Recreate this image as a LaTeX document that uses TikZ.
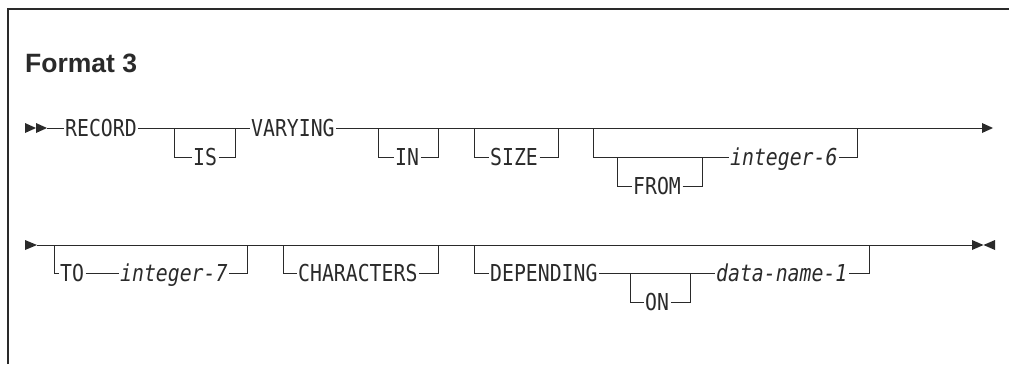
\documentclass[tikz,border=0pt]{standalone}
\usepackage{fontspec}
\setmainfont{Liberation Sans}
\newfontfamily\synfont[FakeStretch=0.85]{DejaVu Sans Mono}
\definecolor{ink}{HTML}{2A2A2A}
\tikzset{
  kw/.style={font=\synfont\fontsize{23.3}{24}\selectfont, inner xsep=1.5pt, inner ysep=0pt,
             text height=17pt, text depth=0pt, anchor=west, text=ink},
  var/.style={kw, font=\synfont\itshape\fontsize{23.3}{24}\selectfont},
  rail/.style={draw=ink, line width=1pt},
  tip/.style={fill=ink},
  frame/.style={draw=ink, line width=1.6pt},
}
\begin{document}
\begin{tikzpicture}[x=1pt,y=-1pt]
\useasboundingbox (0,0) rectangle (1009,364);
% frame
\draw[frame] (8,364) -- (8,9) -- (1009,9);
\node[font=\bfseries\fontsize{26.5}{30}\selectfont, anchor=base west, inner sep=0pt, text=ink] (title) at (25,72) {Format 3};

% ---------- Row 1 ----------
\fill[tip] (25,123) -- (36,128) -- (25,133) -- cycle;
\fill[tip] (36,123) -- (47,128) -- (36,133) -- cycle;
\coordinate (s1) at (47,128);
\node[kw] (rec) at (63.5,128) {RECORD};
\node[kw] (var) at (249.5,128) {VARYING};
\coordinate (e1) at (982,128);
\fill[tip] (982,123) -- (993,128) -- (982,133) -- cycle;
\draw[rail] (s1) -- (rec.west);
\draw[rail] (rec.east) -- (var.west);
\draw[rail] (var.east) -- (e1);

% IS
\coordinate (is1) at (174,128); \coordinate (is2) at (174,157);
\coordinate (is3) at (235,157); \coordinate (is4) at (235,128);
\node[kw] (is) at (191.5,157) {IS};
\draw[rail] (is1) -- (is2) -- (is.west);
\draw[rail] (is.east) -- (is3) -- (is4);

% IN
\coordinate (in1) at (378,128); \coordinate (in2) at (378,157);
\coordinate (in3) at (438,157); \coordinate (in4) at (438,128);
\node[kw] (in) at (393.5,157) {IN};
\draw[rail] (in1) -- (in2) -- (in.west);
\draw[rail] (in.east) -- (in3) -- (in4);

% SIZE
\coordinate (sz1) at (474,128); \coordinate (sz2) at (474,157);
\coordinate (sz3) at (558,157); \coordinate (sz4) at (558,128);
\node[kw] (size) at (488.5,157) {SIZE};
\draw[rail] (sz1) -- (sz2) -- (size.west);
\draw[rail] (size.east) -- (sz3) -- (sz4);

% FROM integer-6
\coordinate (fr1) at (593,128); \coordinate (fr2) at (593,157);
\coordinate (fr3) at (857,157); \coordinate (fr4) at (857,128);
\coordinate (fi1) at (617,157); \coordinate (fi2) at (617,186);
\coordinate (fi3) at (702,186); \coordinate (fi4) at (702,157);
\node[kw] (from) at (631.5,186) {FROM};
\node[var] (int6) at (728.5,157) {integer-6};
\draw[rail] (fr1) -- (fr2) -- (int6.west);
\draw[rail] (int6.east) -- (fr3) -- (fr4);
\draw[rail] (fi1) -- (fi2) -- (from.west);
\draw[rail] (from.east) -- (fi3) -- (fi4);

% ---------- Row 2 ----------
\fill[tip] (25,240) -- (37,245) -- (25,250) -- cycle;
\coordinate (s2) at (37,245);
\coordinate (e2) at (972,245);
\draw[rail] (s2) -- (e2);
\fill[tip] (972,240) -- (983.5,245) -- (972,250) -- cycle;
\fill[tip] (995,240) -- (983.5,245) -- (995,250) -- cycle;

% TO integer-7
\coordinate (to1) at (54,245); \coordinate (to2) at (54,273);
\coordinate (to3) at (247,273); \coordinate (to4) at (247,245);
\node[kw] (to) at (58.5,273) {TO};
\node[var] (int7) at (118.5,273) {integer-7};
\draw[rail] (to1) -- (to2) -- (to.west);
\draw[rail] (to.east) -- (int7.west);
\draw[rail] (int7.east) -- (to3) -- (to4);

% CHARACTERS
\coordinate (ch1) at (283,245); \coordinate (ch2) at (283,273);
\coordinate (ch3) at (438,273); \coordinate (ch4) at (438,245);
\node[kw] (chars) at (296.5,273) {CHARACTERS};
\draw[rail] (ch1) -- (ch2) -- (chars.west);
\draw[rail] (chars.east) -- (ch3) -- (ch4);

% DEPENDING ON data-name-1
\coordinate (dp1) at (474,245); \coordinate (dp2) at (474,273);
\coordinate (dp3) at (869,273); \coordinate (dp4) at (869,245);
\coordinate (on1) at (630,273); \coordinate (on2) at (630,302);
\coordinate (on3) at (690,302); \coordinate (on4) at (690,273);
\node[kw] (dep) at (488.5,273) {DEPENDING};
\node[kw] (on) at (643.5,302) {ON};
\node[var] (dn1) at (714.5,273) {data-name-1};
\draw[rail] (dp1) -- (dp2) -- (dep.west);
\draw[rail] (dep.east) -- (dn1.west);
\draw[rail] (dn1.east) -- (dp3) -- (dp4);
\draw[rail] (on1) -- (on2) -- (on.west);
\draw[rail] (on.east) -- (on3) -- (on4);
\end{tikzpicture}
\end{document}
